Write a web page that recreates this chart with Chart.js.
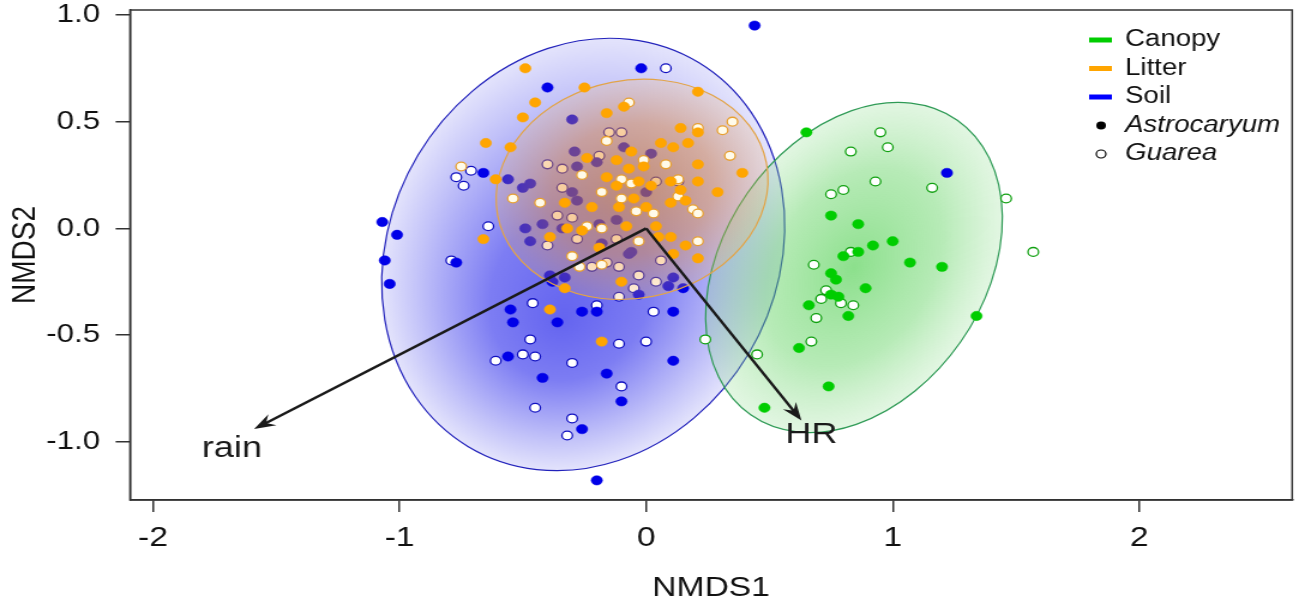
<!DOCTYPE html>
<html>
<head>
<meta charset="utf-8">
<script src="https://cdn.jsdelivr.net/npm/chart.js@4.4.1/dist/chart.umd.min.js"></script>
<style>
  html, body { margin: 0; padding: 0; background: #fff; }
</style>
</head>
<body>
<!-- the original figure is stretched sideways, so the canvas is too -->
<canvas id="chart" width="1083" height="606" style="display:block;width:1299px;height:606px"></canvas>
<script>
// NMDS scores: [NMDS1, NMDS2]
const soilAstro = [
  [0.44, 0.95], [-0.02, 0.75], [-0.40, 0.66], [-0.66, 0.26], [-0.56, 0.23], [-1.07, 0.03], [-1.01, -0.03],
  [-1.06, -0.15], [-1.04, -0.26], [-0.77, -0.16], [-0.55, -0.38], [-0.54, -0.44], [-0.36, -0.44], [-0.26, -0.39],
  [-0.20, -0.39], [0.11, -0.39], [-0.56, -0.60], [-0.42, -0.70], [-0.16, -0.68], [0.11, -0.62], [-0.10, -0.81],
  [-0.26, -0.94], [-0.20, -1.18], [-0.39, -0.22], [-0.33, -0.23], [-0.38, -0.25], [0.11, -0.23], [0.09, -0.27],
  [0.15, -0.28], [-0.03, -0.31], [1.22, 0.26],
  [-0.30, 0.51], [-0.29, 0.36], [-0.20, 0.31], [-0.28, 0.29], [-0.09, 0.38], [0.02, 0.35], [-0.50, 0.19],
  [-0.47, 0.21], [-0.30, 0.17], [-0.28, 0.13], [-0.49, 0.00], [-0.42, 0.02], [-0.34, 0.00], [-0.47, -0.06],
  [-0.19, 0.02], [-0.12, 0.04], [-0.18, -0.07], [0.00, 0.17], [-0.07, -0.12], [-0.06, -0.11]
];
const soilGuarea = [
  [0.08, 0.75], [-0.77, 0.24], [-0.74, 0.20], [-0.71, 0.27], [-0.40, 0.30], [-0.34, 0.28], [-0.34, 0.19],
  [-0.36, 0.06], [-0.30, 0.05], [-0.40, -0.08], [-0.28, -0.05], [-0.15, 0.45], [-0.10, 0.45], [-0.19, 0.34],
  [0.04, 0.22], [0.13, 0.22], [-0.64, 0.01], [-0.79, -0.15], [-0.22, -0.18], [-0.16, -0.16], [-0.11, -0.18],
  [-0.12, -0.05], [-0.03, -0.22], [0.06, -0.15], [0.04, -0.25], [-0.05, -0.28], [-0.11, -0.32], [-0.46, -0.35],
  [-0.20, -0.36], [0.03, -0.39], [-0.47, -0.52], [-0.61, -0.62], [-0.50, -0.59], [-0.45, -0.60], [-0.30, -0.63],
  [-0.11, -0.54], [0.00, -0.53], [-0.10, -0.74], [-0.45, -0.84], [-0.30, -0.89], [-0.32, -0.97]
];
const litterAstro = [
  [-0.49, 0.75], [-0.25, 0.66], [0.21, 0.64], [-0.45, 0.59], [-0.50, 0.52], [-0.16, 0.54], [-0.09, 0.57],
  [-0.65, 0.40], [-0.55, 0.38], [-0.61, 0.23], [0.14, 0.47], [0.21, 0.45], [0.06, 0.40], [0.11, 0.38],
  [0.17, 0.40], [0.21, 0.30], [0.39, 0.26], [0.29, 0.17], [0.21, 0.22], [0.14, 0.18], [0.10, 0.22],
  [0.16, 0.13], [-0.06, 0.36], [-0.24, 0.33], [-0.16, 0.24], [-0.12, 0.32], [-0.07, 0.28], [-0.01, 0.29],
  [-0.03, 0.22], [-0.12, 0.20], [0.02, 0.20], [-0.33, 0.12], [-0.39, -0.04], [-0.26, -0.01], [-0.08, 0.01],
  [0.04, 0.01], [0.10, -0.04], [0.16, -0.08], [0.21, -0.14], [0.11, -0.12], [-0.33, -0.28], [-0.66, -0.05],
  [-0.10, -0.25], [-0.05, 0.14], [0.00, 0.10], [0.10, 0.12], [-0.11, 0.10], [-0.22, 0.10], [-0.32, 0.00],
  [-0.19, -0.09], [-0.39, -0.38], [-0.18, -0.53], [0.05, -0.04]
];
const litterGuarea = [
  [-0.75, 0.29], [-0.07, 0.59], [-0.16, 0.41], [0.21, 0.47], [0.31, 0.46], [0.35, 0.50], [0.34, 0.34],
  [0.08, 0.30], [-0.01, 0.32], [-0.10, 0.23], [-0.18, 0.17], [-0.10, 0.14], [-0.06, 0.21], [-0.04, 0.08],
  [0.03, 0.07], [0.19, 0.09], [0.21, 0.07], [0.13, 0.15], [-0.24, 0.01], [-0.18, 0.00], [-0.54, 0.14],
  [-0.43, 0.12], [-0.26, 0.25], [-0.03, -0.06], [0.21, -0.06], [-0.30, -0.13], [-0.27, -0.18], [-0.18, -0.17],
  [0.13, 0.23]
];
const canopyAstro = [
  [0.65, 0.45], [0.75, 0.06], [0.86, 0.02], [1.00, -0.06], [0.92, -0.08], [0.86, -0.11], [0.80, -0.13],
  [1.07, -0.16], [1.20, -0.18], [0.75, -0.21], [0.77, -0.24], [0.89, -0.28], [0.75, -0.31], [0.78, -0.32],
  [0.66, -0.36], [0.82, -0.41], [1.34, -0.41], [0.62, -0.56], [0.74, -0.74], [0.48, -0.84]
];
const canopyGuarea = [
  [0.95, 0.45], [0.98, 0.38], [0.83, 0.36], [0.93, 0.22], [1.16, 0.19], [0.80, 0.18], [0.75, 0.16],
  [1.46, 0.14], [1.57, -0.11], [0.68, -0.17], [0.83, -0.11], [0.73, -0.29], [0.71, -0.33], [0.79, -0.35],
  [0.84, -0.36], [0.69, -0.42], [0.67, -0.53], [0.24, -0.52], [0.45, -0.59]
];

// group ellipses: centre and two conjugate semi-axes, in NMDS units
const soilEllipse = { c: [-0.255, -0.122], a: [0.468, 0.899], b: [0.670, -0.466] };
const litterEllipse = { c: [-0.057, 0.183], a: [0.545, 0.123], b: [0.084, -0.501] };
const canopyEllipse = { c: [0.843, -0.183], a: [0.419, 0.690], b: [0.432, -0.349] };

// fitted environmental vectors
const vectorNames = ['rain', 'HR'];
const vectorX = [-1.59, 0.63];
const vectorY = [-0.94, -0.90];
const vectorLabelX = [-1.68, 0.67];
const vectorLabelY = [-1.03, -0.965];

const xTicks = [-2, -1, 0, 1, 2];
const yTicks = [-1.0, -0.5, 0.0, 0.5, 1.0];
const xRange = [-2.093, 2.62];
const yRange = [-1.272, 1.023];

const legendGroups = ['Canopy', 'Litter', 'Soil'];
const legendGroupColors = ['#00cd00', '#ffa500', '#0000ff'];
const legendSpecies = ['Astrocaryum', 'Guarea'];

const FONT = "'Liberation Sans', Arial, sans-serif";
Chart.defaults.font.family = FONT;

const pts = arr => arr.map(p => ({ x: p[0], y: p[1] }));

// focus = where the shading is darkest, in unit-circle coords of the ellipse
function drawEllipse(chart, e, stops, stroke, focus) {
  const { ctx } = chart;
  const sx = chart.scales.x, sy = chart.scales.y;
  const cx = sx.getPixelForValue(e.c[0]), cy = sy.getPixelForValue(e.c[1]);
  const ax = sx.getPixelForValue(e.c[0] + e.a[0]) - cx, ay = sy.getPixelForValue(e.c[1] + e.a[1]) - cy;
  const bx = sx.getPixelForValue(e.c[0] + e.b[0]) - cx, by = sy.getPixelForValue(e.c[1] + e.b[1]) - cy;
  const f = focus || [0, 0];
  ctx.save();
  ctx.transform(ax, ay, bx, by, cx, cy);
  ctx.beginPath();
  ctx.arc(0, 0, 1, 0, Math.PI * 2);
  const g = ctx.createRadialGradient(f[0], f[1], 0, 0, 0, 1);
  stops.forEach(s => g.addColorStop(s[0], s[1]));
  ctx.fillStyle = g;
  ctx.fill();
  ctx.restore();
  ctx.lineWidth = 1.2;
  ctx.strokeStyle = stroke;
  ctx.stroke();
}

function drawArrow(ctx, x0, y0, x1, y1) {
  const ang = Math.atan2(y1 - y0, x1 - x0);
  const c = Math.cos(ang), s = Math.sin(ang);
  const len = 18, half = 6.5;
  ctx.beginPath();
  ctx.moveTo(x0, y0);
  ctx.lineTo(x1 - c * len * 0.6, y1 - s * len * 0.6);
  ctx.stroke();
  ctx.beginPath();
  ctx.moveTo(x1, y1);
  ctx.lineTo(x1 - c * len + s * half, y1 - s * len - c * half);
  ctx.lineTo(x1 - c * len * 0.65, y1 - s * len * 0.65);
  ctx.lineTo(x1 - c * len - s * half, y1 - s * len + c * half);
  ctx.closePath();
  ctx.fill();
}

const overlay = {
  id: 'overlay',
  beforeDatasetsDraw(chart) {
    drawEllipse(chart, soilEllipse, [
      [0, 'rgb(100,100,240)'], [0.4, 'rgb(125,125,243)'], [0.8, 'rgb(195,195,249)'], [1, 'rgb(228,228,252)']
    ], '#2222bb', [-0.3, 0.08]);
    drawEllipse(chart, canopyEllipse, [
      [0, 'rgba(70,205,70,0.62)'], [0.6, 'rgba(95,210,95,0.45)'], [1, 'rgba(140,220,140,0.25)']
    ], '#2e9a55');
  },
  afterDatasetDraw(chart, args) {
    // litter ellipse sits over the soil points, under the litter points
    if (args.index === 4) {
      drawEllipse(chart, litterEllipse, [
        [0, 'rgba(230,140,30,0.58)'], [0.6, 'rgba(240,150,50,0.44)'], [1, 'rgba(250,180,90,0.2)']
      ], '#e3a447');
    }
  },
  afterDatasetsDraw(chart) {
    const { ctx, chartArea: a } = chart;
    const sx = chart.scales.x, sy = chart.scales.y;
    const ox = sx.getPixelForValue(0), oy = sy.getPixelForValue(0);
    ctx.save();
    ctx.strokeStyle = '#1a1a1a';
    ctx.fillStyle = '#1a1a1a';
    ctx.lineWidth = 2.5;
    vectorNames.forEach((name, i) => {
      drawArrow(ctx, ox, oy, sx.getPixelForValue(vectorX[i]), sy.getPixelForValue(vectorY[i]));
      ctx.font = '30px ' + FONT;
      ctx.textAlign = 'center';
      ctx.textBaseline = 'middle';
      ctx.fillText(name, sx.getPixelForValue(vectorLabelX[i]), sy.getPixelForValue(vectorLabelY[i]));
    });

    // plot frame
    ctx.lineWidth = 1.5;
    ctx.strokeStyle = '#333';
    ctx.strokeRect(a.left, a.top, a.right - a.left, a.bottom - a.top);

    // legend
    const lx0 = 908, lx1 = 927, tx = 938, y0 = 40, dy = 28.5;
    ctx.textAlign = 'left';
    ctx.textBaseline = 'middle';
    ctx.fillStyle = '#111';
    legendGroups.forEach((g, i) => {
      const y = y0 + i * dy;
      ctx.strokeStyle = legendGroupColors[i];
      ctx.lineWidth = 5;
      ctx.beginPath(); ctx.moveTo(lx0, y); ctx.lineTo(lx1, y); ctx.stroke();
      ctx.font = '23px ' + FONT;
      ctx.fillText(g, tx, y);
    });
    legendSpecies.forEach((sp, i) => {
      const y = y0 + (i + 3) * dy;
      ctx.beginPath();
      ctx.arc(918, y, 4, 0, Math.PI * 2);
      ctx.fillStyle = i === 0 ? '#000' : '#fff';
      ctx.fill();
      if (i === 1) { ctx.lineWidth = 1.2; ctx.strokeStyle = '#000'; ctx.stroke(); }
      ctx.fillStyle = '#111';
      ctx.font = 'italic 23px ' + FONT;
      ctx.fillText(sp, tx, y);
    });
    ctx.restore();
  }
};

const filled = (data, color) => ({
  data: pts(data), backgroundColor: color, borderColor: color, borderWidth: 0.5, pointRadius: 4.7
});
const open = (data, fill, edge) => ({
  data: pts(data), backgroundColor: fill, borderColor: edge, borderWidth: 1.3, pointRadius: 4.4
});

new Chart(document.getElementById('chart'), {
  type: 'scatter',
  data: {
    // first dataset is drawn on top
    datasets: [
      Object.assign({ label: 'Canopy Astrocaryum' }, filled(canopyAstro, '#00cd00')),
      Object.assign({ label: 'Canopy Guarea' }, open(canopyGuarea, '#ffffff', '#10a010')),
      Object.assign({ label: 'Litter Astrocaryum' }, filled(litterAstro, '#ffa500')),
      Object.assign({ label: 'Litter Guarea' }, open(litterGuarea, '#fffbea', '#e8a030')),
      Object.assign({ label: 'Soil Astrocaryum' }, filled(soilAstro, '#0000e8')),
      Object.assign({ label: 'Soil Guarea' }, open(soilGuarea, '#ffffff', '#1010c0'))
    ]
  },
  options: {
    responsive: false,
    animation: false,
    devicePixelRatio: 1,
    layout: { padding: { top: 10, right: 5.5, left: 0, bottom: 0 } },
    plugins: { legend: { display: false }, tooltip: { enabled: false } },
    scales: {
      x: {
        type: 'linear',
        min: xRange[0], max: xRange[1],
        afterBuildTicks: s => { s.ticks = xTicks.map(v => ({ value: v })); },
        afterFit: s => { s.height = 106; s.paddingLeft = 0; s.paddingRight = 0; },
        ticks: { callback: v => String(v), font: { size: 28 }, color: '#111', padding: 9 },
        grid: { drawOnChartArea: false, drawTicks: true, tickLength: 12, color: '#333', lineWidth: 1.5 },
        border: { display: true, color: '#333', width: 1.5 },
        title: { display: true, text: 'NMDS1', font: { size: 28 }, color: '#111', padding: { top: 0, bottom: 1 } }
      },
      y: {
        type: 'linear',
        min: yRange[0], max: yRange[1],
        afterBuildTicks: s => { s.ticks = yTicks.map(v => ({ value: v })); },
        afterFit: s => { s.width = 108.4; s.paddingTop = 0; s.paddingBottom = 0; },
        ticks: { callback: v => v.toFixed(1), font: { size: 26 }, color: '#111', padding: 13 },
        grid: { drawOnChartArea: false, drawTicks: true, tickLength: 12, color: '#333', lineWidth: 1.5 },
        border: { display: true, color: '#333', width: 1.5 },
        title: { display: true, text: 'NMDS2', font: { size: 28 }, color: '#111', padding: { top: 4, bottom: 0 } }
      }
    }
  },
  plugins: [overlay]
});
</script>
</body>
</html>
